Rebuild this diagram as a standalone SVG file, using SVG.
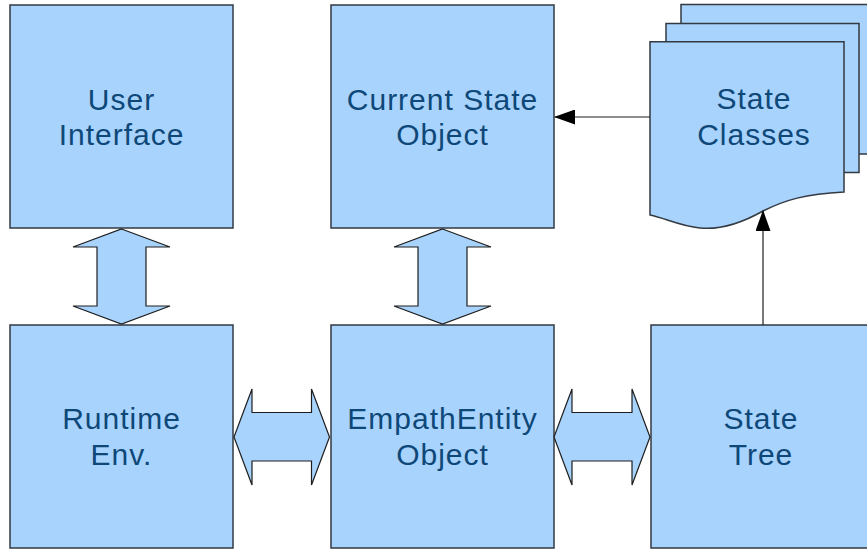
<svg xmlns="http://www.w3.org/2000/svg" width="867" height="550" viewBox="0 0 867 550">
  <style>
    .box { fill: #a8d3fd; stroke: #333a42; stroke-width: 1.5; }
    .arr { fill: #a8d3fd; stroke: #1e1e1e; stroke-width: 1.2; stroke-linejoin: miter; }
    .lbl { font-family: "Liberation Sans", Arial, sans-serif; font-size: 30px; letter-spacing: 1px; fill: #0e4878; text-anchor: middle; }
    .con { stroke: #1e1e1e; stroke-width: 1.2; fill: none; }
  </style>
  <defs>
    <marker id="ah" markerWidth="21" markerHeight="15" refX="20" refY="7.5" orient="auto" markerUnits="userSpaceOnUse">
      <path d="M0,0 L21,7.5 L0,15 Z" fill="#000"/>
    </marker>
  </defs>
  <rect width="867" height="550" fill="#fff"/>

  <g id="user-interface">
    <rect class="box" x="10" y="5" width="223" height="223"/>
    <text class="lbl" x="121.5" y="110">User</text>
    <text class="lbl" x="121.5" y="145">Interface</text>
  </g>

  <g id="current-state-object">
    <rect class="box" x="331" y="5" width="223" height="223"/>
    <text class="lbl" x="442.5" y="110">Current State</text>
    <text class="lbl" x="442.5" y="145">Object</text>
  </g>

  <g id="state-classes">
    <rect class="box" x="681" y="4.5" width="200" height="149.5"/>
    <rect class="box" x="666" y="23.5" width="193" height="149"/>
    <path class="box" d="M650,41.7 L844,41.7 L844,192 C805,194 785,200 763,211 C740,224 720,230 700,228 C680,226 665,218 650,215 Z"/>
    <text class="lbl" x="754" y="109">State</text>
    <text class="lbl" x="754" y="145">Classes</text>
  </g>

  <g id="runtime-env">
    <rect class="box" x="10" y="325" width="223" height="223"/>
    <text class="lbl" x="121.5" y="429">Runtime</text>
    <text class="lbl" x="121.5" y="465">Env.</text>
  </g>

  <g id="empathentity-object">
    <rect class="box" x="331" y="325" width="223" height="223"/>
    <text class="lbl" x="442.5" y="429">EmpathEntity</text>
    <text class="lbl" x="442.5" y="465">Object</text>
  </g>

  <g id="state-tree">
    <rect class="box" x="651" y="325" width="223" height="223"/>
    <text class="lbl" x="761" y="429">State</text>
    <text class="lbl" x="761" y="465">Tree</text>
  </g>

  <g id="connectors">
    <path class="arr" d="M121.5,229 L170,247 L146,247 L146,306 L170,306 L121.5,324 L73,306 L97,306 L97,247 L73,247 Z"/>
    <path class="arr" d="M442.5,229 L491,247 L467,247 L467,306 L491,306 L442.5,324 L394,306 L418,306 L418,247 L394,247 Z"/>
    <path class="arr" d="M234,437 L252,389 L252,412.5 L311.5,412.5 L311.5,389 L329.5,437 L311.5,485 L311.5,461 L252,461 L252,485 Z"/>
    <path class="arr" d="M554,437 L572,389 L572,412.5 L632,412.5 L632,389 L650,437 L632,485 L632,461 L572,461 L572,485 Z"/>
    <line class="con" x1="650" y1="117" x2="555" y2="117" marker-end="url(#ah)"/>
    <line class="con" x1="763" y1="325" x2="763" y2="211" marker-end="url(#ah)"/>
  </g>
</svg>
